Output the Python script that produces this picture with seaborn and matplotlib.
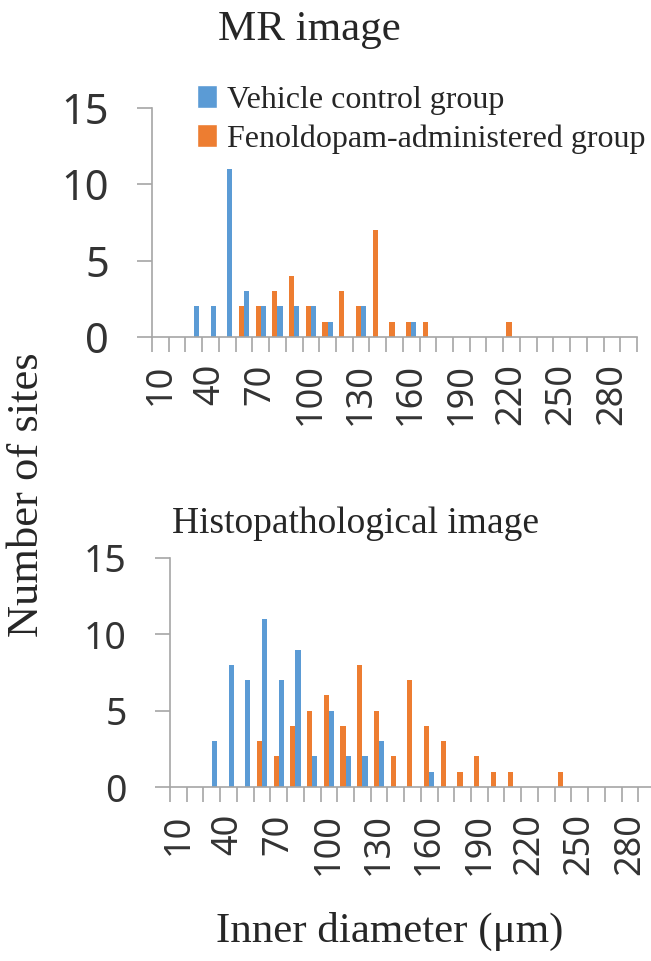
import numpy as np
import pandas as pd
import matplotlib
matplotlib.use("Agg")
import matplotlib.pyplot as plt
import seaborn as sns
from matplotlib.patches import Patch

# inner diameter bins (um)
categories = [10, 20, 30, 40, 50, 60, 70, 80, 90, 100, 110, 120, 130, 140, 150,
              160, 170, 180, 190, 200, 210, 220, 230, 240, 250, 260, 270, 280, 290]
tick_labels = ["10", "40", "70", "100", "130", "160", "190", "220", "250", "280"]

mr_vehicle = [0, 0, 2, 2, 11, 3, 2, 2, 2, 2, 1, 0, 2, 0, 0,
              1, 0, 0, 0, 0, 0, 0, 0, 0, 0, 0, 0, 0, 0]
mr_fenoldopam = [0, 0, 0, 0, 0, 2, 2, 3, 4, 2, 1, 3, 2, 7, 1,
                 1, 1, 0, 0, 0, 0, 1, 0, 0, 0, 0, 0, 0, 0]
histo_vehicle = [0, 0, 3, 8, 7, 11, 7, 9, 2, 5, 2, 2, 3, 0, 0,
                 1, 0, 0, 0, 0, 0, 0, 0, 0, 0, 0, 0, 0, 0]
histo_fenoldopam = [0, 0, 0, 0, 0, 3, 2, 4, 5, 6, 4, 8, 5, 2, 7,
                    4, 3, 1, 2, 1, 1, 0, 0, 1, 0, 0, 0, 0, 0]

VEH = "Vehicle control group"
FEN = "Fenoldopam-administered group"
colors = {VEH: "#5B9BD5", FEN: "#ED7D31"}
GRAY = "#A6A6A6"
SERIF = ["Liberation Serif", "DejaVu Serif"]
SANS = ["Noto Sans", "DejaVu Sans"]


def make_frame(veh, fen):
    cats = [str(c) for c in categories]
    df = pd.DataFrame({
        "diameter": cats * 2,
        "group": [FEN] * len(cats) + [VEH] * len(cats),
        "count": list(fen) + list(veh),
    })
    return df


def draw_panel(ax, veh, fen, ysize):
    df = make_frame(veh, fen)
    sns.barplot(data=df, x="diameter", y="count", hue="group",
                hue_order=[FEN, VEH], palette=colors, width=0.62,
                order=[str(c) for c in categories], legend=False,
                linewidth=0, saturation=1, ax=ax)
    ax.set_xlim(-0.5, len(categories) - 0.5)
    ax.set_ylim(0, 15)
    ax.set_yticks([0, 5, 10, 15])
    ax.set_yticklabels(["0", "5", "10", "15"], family=SANS, fontsize=ysize,
                       fontweight="light", color="#333333")
    ax.set_xticks(range(0, len(categories), 3))
    ax.set_xticklabels(tick_labels, rotation=90, family=SANS, fontsize=26,
                       fontweight="light", color="#333333")
    ax.set_xticks(np.arange(-0.5, len(categories), 1), minor=True)
    ax.tick_params(axis="x", which="major", bottom=True, length=0, pad=19)
    ax.tick_params(axis="x", which="minor", bottom=True, length=11, width=1.2,
                   color=GRAY, direction="out")
    ax.tick_params(axis="y", left=True, length=11, width=1.2, color=GRAY,
                   direction="out", pad=20)
    for s in ["top", "right"]:
        ax.spines[s].set_visible(False)
    for s in ["left", "bottom"]:
        ax.spines[s].set_color(GRAY)
        ax.spines[s].set_linewidth(1.2)
    ax.set_xlabel("")
    ax.set_ylabel("")


sns.set_style("white")
fig = plt.figure(figsize=(6.51, 9.61), dpi=100)
W, H = 651, 961

ax1 = fig.add_axes([152 / W, 1 - 337 / H, 485 / W, 229 / H])
ax2 = fig.add_axes([170 / W, 1 - 787 / H, 485 / W, 229 / H])

draw_panel(ax1, mr_vehicle, mr_fenoldopam, 30)
draw_panel(ax2, histo_vehicle, histo_fenoldopam, 27)

fig.text(309 / W, 1 - 40 / H, "MR image", ha="center", va="baseline",
         family=SERIF, fontsize=31)
fig.text(172 / W, 1 - 533 / H, "Histopathological image", ha="left",
         va="baseline", family=SERIF, fontsize=27)
fig.text(27 / W, 1 - 495 / H, "Number of sites", rotation=90, ha="center",
         va="center", family=SERIF, fontsize=32)
fig.text(390 / W, 1 - 931 / H, "Inner diameter (\u03bcm)", ha="center",
         va="center", family=SERIF, fontsize=31)

handles = [Patch(facecolor=colors[VEH]), Patch(facecolor=colors[FEN])]
fig.legend(handles, [VEH, FEN], loc="upper left",
           bbox_to_anchor=(197 / W, 1 - 85 / H), frameon=False,
           prop={"family": SERIF, "size": 23}, handlelength=0.62,
           handleheight=0.75, handletextpad=0.33, labelspacing=0.28,
           borderpad=0, borderaxespad=0)

fig.savefig("out.png", dpi=100)
